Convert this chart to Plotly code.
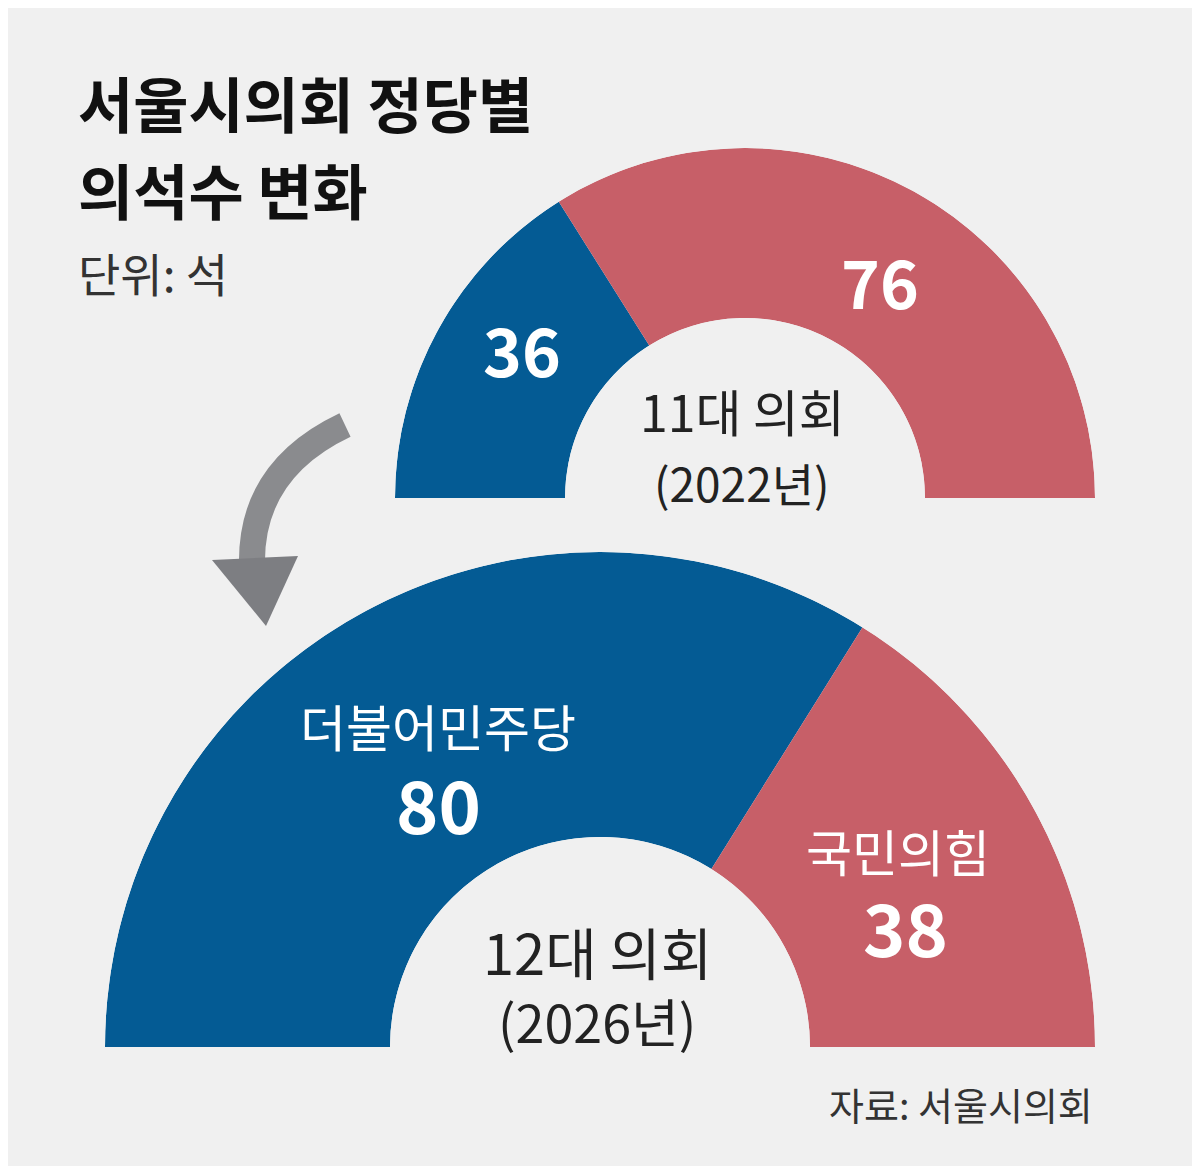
import plotly.graph_objects as go

parties = ["더불어민주당", "국민의힘"]
seats_11 = [36, 76]
seats_12 = [80, 38]
colors = ["#045b94", "#c75f68"]

W, H = 1200, 1166
OFF = 8  # page body margin
FONT = "Noto Sans CJK KR"


def px(x, y):
    return (x - OFF) / W, 1 - (y - OFF) / H


def half_donut(seats, name):
    total = sum(seats)
    thetas, widths = [], []
    start = 180.0
    for s in seats:
        w = s / total * 180
        thetas.append(start - w / 2)
        widths.append(w)
        start -= w
    return go.Barpolar(r=[1] * len(seats), theta=thetas, width=widths,
                       marker=dict(color=colors, line=dict(width=0)),
                       subplot=name, hoverinfo="skip", showlegend=False)


fig = go.Figure()
fig.add_trace(half_donut(seats_11, "polar"))
fig.add_trace(half_donut(seats_12, "polar2"))

ax = dict(visible=False, showgrid=False)
polar_common = dict(sector=[0, 180], bgcolor="rgba(0,0,0,0)",
                    radialaxis=dict(range=[0, 1], **ax),
                    angularaxis=dict(rotation=0, direction="counterclockwise", **ax))
x0, y0 = px(395, 498)
x1, y1 = px(1095, 148)
x2, y2 = px(105, 1047)
x3, y3 = px(1095, 552)
fig.update_layout(
    width=W, height=H, margin=dict(l=0, r=0, t=0, b=0),
    paper_bgcolor="#f0f0f0", plot_bgcolor="#f0f0f0",
    polar=dict(domain=dict(x=[x0, x1], y=[y0, y1]), hole=180 / 350, **polar_common),
    polar2=dict(domain=dict(x=[x2, x3], y=[y2, y3]), hole=210 / 495, **polar_common),
)


def text(x, y, s, size, color="#222", bold=False, xanchor="center"):
    xp, yp = px(x, y)
    if bold:
        s = "<b>" + s + "</b>"
    fig.add_annotation(x=xp, y=yp, xref="paper", yref="paper", text=s,
                       showarrow=False, xanchor=xanchor, yanchor="middle",
                       font=dict(family=FONT, size=size, color=color))


# title
text(76, 102, "서울시의회 정당별", 60, "#111", True, "left")
text(76, 188, "의석수 변화", 60, "#111", True, "left")
text(76, 272, "단위: 석", 46, "#333", False, "left")

# top chart labels
text(522, 348, str(seats_11[0]), 66, "white", True)
text(880, 280, str(seats_11[1]), 66, "white", True)
text(742, 410, "11대 의회", 50)
text(742, 482, "(2022년)", 46)

# bottom chart labels
text(438, 725, parties[0], 50, "white")
text(438, 802, str(seats_12[0]), 72, "white", True)
text(898, 850, parties[1], 50, "white")
text(905, 925, str(seats_12[1]), 72, "white", True)
text(597, 950, "12대 의회", 56)
text(597, 1020, "(2026년)", 52)

text(1095, 1103, "자료: 서울시의회", 38, "#333", False, "right")

# curved arrow
fig.add_shape(type="path", xref="paper", yref="paper",
              path="M {} {} Q {} {} {} {}".format(*px(345, 425), *px(250, 470), *px(252, 565)),
              line=dict(color="#8a8b8e", width=26))
fig.add_shape(type="path", xref="paper", yref="paper",
              path="M {} {} L {} {} L {} {} Z".format(*px(212, 560), *px(298, 556), *px(266, 626)),
              line=dict(width=0), fillcolor="#7d7e82")

fig.write_html("out.html")
